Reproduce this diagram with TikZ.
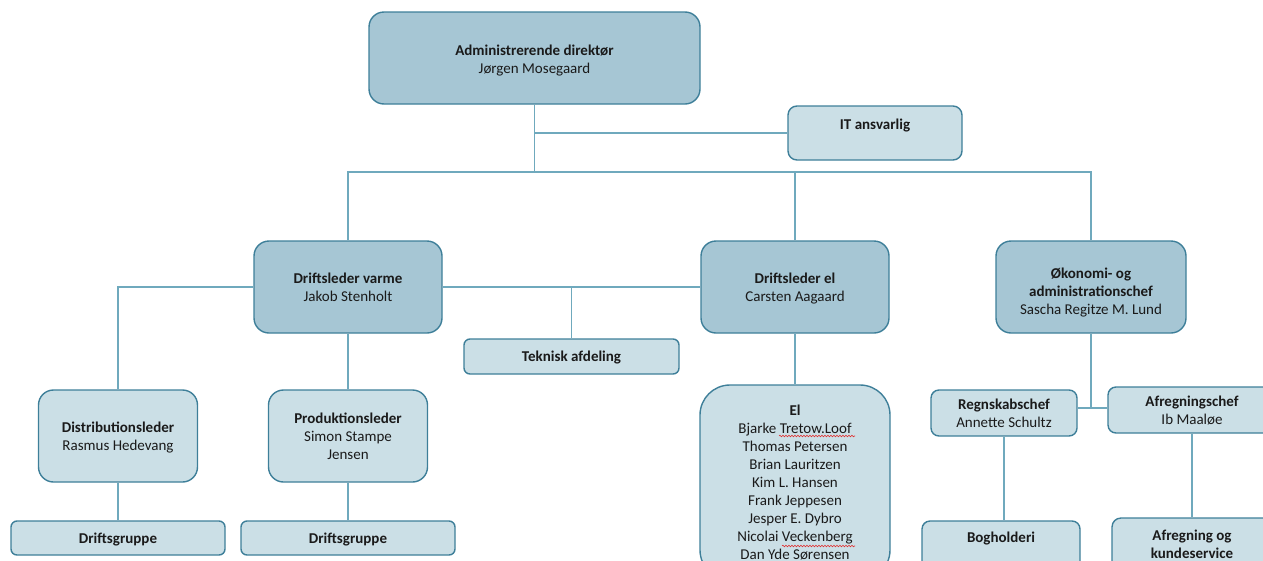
\documentclass[tikz,border=0pt]{standalone}
\usepackage{fontspec}
\setmainfont{Carlito}
\usetikzlibrary{decorations.pathmorphing}
\definecolor{dk}{HTML}{A6C6D4}
\definecolor{lt}{HTML}{CBDFE6}
\definecolor{bd}{HTML}{3E7F99}
\definecolor{ln}{HTML}{6FA9BD}
\definecolor{tx}{HTML}{1A1A1A}
\definecolor{spell}{HTML}{E03030}
\newcommand{\boxtop}[1][15.4pt]{\rule{0pt}{#1}}
\newcommand{\boxbot}{\rule[-5.4pt]{0pt}{0pt}}
\begin{document}
\begin{tikzpicture}[x=1pt,y=-1pt,
  box/.style={draw=bd, line width=1.4pt, align=center, inner sep=0pt, text=tx,
    font=\fontsize{15}{18}\selectfont},
  dark/.style={box, fill=dk},
  light/.style={box, fill=lt},
  wire/.style={draw=ln, line width=1.3pt},
  wavy/.style={draw=spell, line width=0.6pt, decorate, decoration={snake, amplitude=0.8pt, segment length=3pt}}]
\useasboundingbox (0,0) rectangle (1263,560);
\clip (0,0) rectangle (1263,560);

% boxes
\node[dark, minimum width=331pt, minimum height=92pt, rounded corners=15pt] (admin) at (534.5,58)
  {\boxtop[17.8pt]\textbf{Administrerende direktør}\\Jørgen Mosegaard\boxbot};
\node[light, minimum width=174pt, minimum height=54pt, rounded corners=9pt] (it) at (875,133)
  {\boxtop\textbf{IT ansvarlig}\\\mbox{}\boxbot};
\node[dark, minimum width=188pt, minimum height=92pt, rounded corners=15pt] (varme) at (348,287)
  {\boxtop\textbf{Driftsleder varme}\\Jakob Stenholt\boxbot};
\node[dark, minimum width=188pt, minimum height=92pt, rounded corners=15pt] (del) at (795,287)
  {\boxtop\textbf{Driftsleder el}\\Carsten Aagaard\boxbot};
\node[dark, minimum width=190pt, minimum height=92pt, rounded corners=15pt] (oko) at (1091,287)
  {\boxtop[23.4pt]\textbf{Økonomi- og}\\\textbf{administrationschef}\\Sascha Regitze M. Lund\boxbot};
\node[light, minimum width=215pt, minimum height=35pt, rounded corners=6pt] (tek) at (571.5,356.5)
  {\boxtop\textbf{Teknisk afdeling}\boxbot};
\node[light, minimum width=159pt, minimum height=92pt, rounded corners=15pt] (dist) at (118,436)
  {\boxtop\textbf{Distributionsleder}\\Rasmus Hedevang\boxbot};
\node[light, minimum width=159pt, minimum height=92pt, rounded corners=15pt] (prod) at (348,436)
  {\boxtop\textbf{Produktionsleder}\\Simon Stampe\\Jensen\boxbot};
\node[light, minimum width=214pt, minimum height=34pt, rounded corners=6pt] (dg1) at (118,538)
  {\boxtop\textbf{Driftsgruppe}\boxbot};
\node[light, minimum width=214pt, minimum height=34pt, rounded corners=6pt] (dg2) at (348,538)
  {\boxtop\textbf{Driftsgruppe}\boxbot};
\node[light, minimum width=190pt, minimum height=195pt, rounded corners=30pt] (elgrp) at (795,482.5)
  {\boxtop\textbf{El}\\Bjarke Tretow.Loof\\Thomas Petersen\\Brian Lauritzen\\Kim L. Hansen\\Frank Jeppesen\\Jesper E. Dybro\\Nicolai Veckenberg\\Dan Yde Sørensen\boxbot};
\node[light, minimum width=146pt, minimum height=46pt, rounded corners=8pt] (regn) at (1004,413)
  {\boxtop\textbf{Regnskabschef}\\Annette Schultz\boxbot};
\node[light, minimum width=168pt, minimum height=46pt, rounded corners=8pt] (afr) at (1192,410)
  {\boxtop\textbf{Afregningschef}\\Ib Maaløe\boxbot};
\node[light, minimum width=158pt, minimum height=50pt, rounded corners=8pt] (bog) at (1001,546)
  {\boxtop\textbf{Bogholderi}\\\mbox{}\boxbot};
\node[light, minimum width=160pt, minimum height=53pt, rounded corners=9pt] (afk) at (1192,544.5)
  {\boxtop\textbf{Afregning og}\\\textbf{kundeservice}\boxbot};

% connectors
\coordinate (bus) at (534.5,172);
\coordinate (okoj) at (1091,408);
\draw[wire] (admin.south) -- (bus);
\draw[wire] (admin.south) |- (it.west);
\draw[wire] (bus) -| (varme.north);
\draw[wire] (bus) -| (del.north);
\draw[wire] (bus) -| (oko.north);
\draw[wire] (varme.west) -| (dist.north);
\draw[wire] (varme.east) -- (del.west);
\draw[wire] (tek.north |- varme.east) -- (tek.north);
\draw[wire] (varme.south) -- (prod.north);
\draw[wire] (dist.south) -- (dg1.north);
\draw[wire] (prod.south) -- (dg2.north);
\draw[wire] (del.south) -- (elgrp.north);
\draw[wire] (oko.south) -- (okoj);
\draw[wire] (okoj) -- (regn.east |- okoj);
\draw[wire] (okoj) -- (afr.west |- okoj);
\draw[wire] (regn.south) -- (regn.south |- bog.north);
\draw[wire] (afr.south) -- (afk.north);

% spell-check underlines
\draw[wavy] (779,436) -- (855,436);
\draw[wavy] (782,546) -- (855,546);
\end{tikzpicture}
\end{document}
